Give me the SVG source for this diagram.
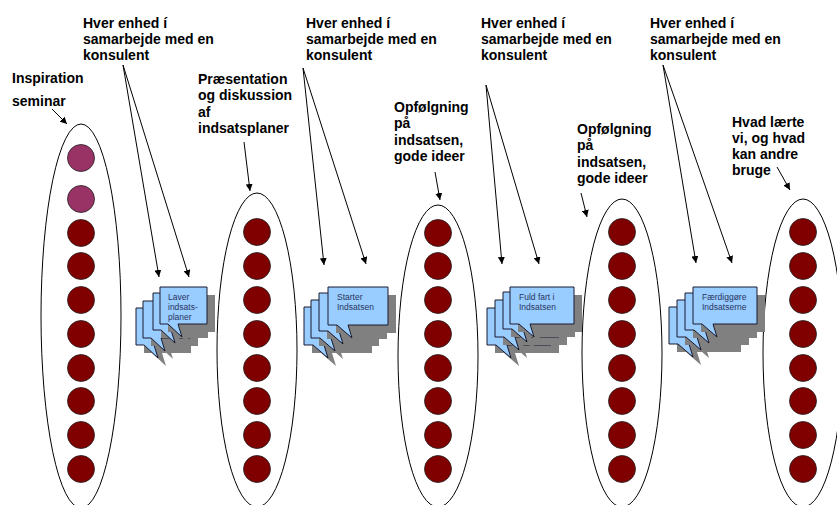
<svg xmlns="http://www.w3.org/2000/svg" width="837" height="505" viewBox="0 0 837 505">
<defs>
<style>
.lbl{font-family:"Liberation Sans",Arial,sans-serif;font-weight:bold;font-size:14px;fill:#000}
.ct{font-family:"Liberation Sans",Arial,sans-serif;font-size:8.5px;fill:#2a3560}
.ell{fill:none;stroke:#000;stroke-width:1}
.dot{fill:#800000;stroke:#222;stroke-width:0.8}
.dotp{fill:#993366;stroke:#222;stroke-width:0.8}
.con{fill:none;stroke:#000;stroke-width:1;marker-end:url(#ah)}
.bub{fill:#99ccff;stroke:#1a1a2e;stroke-width:1}
.sh{fill:#808080}
</style>
<marker id="ah" viewBox="0 0 10 10" refX="10" refY="5" markerWidth="7" markerHeight="7" markerUnits="userSpaceOnUse" orient="auto">
<path d="M0,0 L10,5 L0,10 z" fill="#000"/>
</marker>
<path id="bubA" d="M0,0 H47 V37 H18 L22,50 L8,37 H0 Z"/>
<path id="bubB" d="M0,0 H60 V38 H20 L24,51 L9,38 H0 Z"/>
<path id="bubC" d="M0,0 H64 V37 H20 L24,50 L9,37 H0 Z"/>
</defs>

<g id="seminar-ellipse">
<ellipse class="ell" cx="81" cy="316" rx="40" ry="192"/>
<circle class="dotp" cx="81" cy="158" r="13.5"/>
<circle class="dotp" cx="81" cy="199" r="13.5"/>
<circle class="dot" cx="81" cy="233" r="13.5"/>
<circle class="dot" cx="81" cy="266" r="13.5"/>
<circle class="dot" cx="81" cy="300" r="13.5"/>
<circle class="dot" cx="81" cy="334" r="13.5"/>
<circle class="dot" cx="81" cy="368" r="13.5"/>
<circle class="dot" cx="81" cy="401" r="13.5"/>
<circle class="dot" cx="81" cy="435" r="13.5"/>
<circle class="dot" cx="81" cy="469" r="13.5"/>
</g>

<g id="ellipse-2">
<ellipse class="ell" cx="257" cy="350" rx="40" ry="157"/>
<circle class="dot" cx="257" cy="232" r="13.5"/>
<circle class="dot" cx="257" cy="266" r="13.5"/>
<circle class="dot" cx="257" cy="300" r="13.5"/>
<circle class="dot" cx="257" cy="334" r="13.5"/>
<circle class="dot" cx="257" cy="368" r="13.5"/>
<circle class="dot" cx="257" cy="401" r="13.5"/>
<circle class="dot" cx="257" cy="435" r="13.5"/>
<circle class="dot" cx="257" cy="469" r="13.5"/>
</g>

<g id="ellipse-3">
<ellipse class="ell" cx="438" cy="356" rx="40" ry="151"/>
<circle class="dot" cx="438" cy="233" r="13.5"/>
<circle class="dot" cx="438" cy="266" r="13.5"/>
<circle class="dot" cx="438" cy="300" r="13.5"/>
<circle class="dot" cx="438" cy="334" r="13.5"/>
<circle class="dot" cx="438" cy="368" r="13.5"/>
<circle class="dot" cx="438" cy="401" r="13.5"/>
<circle class="dot" cx="438" cy="435" r="13.5"/>
<circle class="dot" cx="438" cy="469" r="13.5"/>
</g>

<g id="ellipse-4">
<ellipse class="ell" cx="622" cy="353" rx="40" ry="154"/>
<circle class="dot" cx="622" cy="232" r="13.5"/>
<circle class="dot" cx="622" cy="266" r="13.5"/>
<circle class="dot" cx="622" cy="300" r="13.5"/>
<circle class="dot" cx="622" cy="334" r="13.5"/>
<circle class="dot" cx="622" cy="368" r="13.5"/>
<circle class="dot" cx="622" cy="401" r="13.5"/>
<circle class="dot" cx="622" cy="435" r="13.5"/>
<circle class="dot" cx="622" cy="469" r="13.5"/>
</g>

<g id="ellipse-5">
<ellipse class="ell" cx="803" cy="353" rx="40" ry="154"/>
<circle class="dot" cx="803" cy="232" r="13.5"/>
<circle class="dot" cx="803" cy="266" r="13.5"/>
<circle class="dot" cx="803" cy="300" r="13.5"/>
<circle class="dot" cx="803" cy="334" r="13.5"/>
<circle class="dot" cx="803" cy="368" r="13.5"/>
<circle class="dot" cx="803" cy="401" r="13.5"/>
<circle class="dot" cx="803" cy="435" r="13.5"/>
<circle class="dot" cx="803" cy="469" r="13.5"/>
</g>

<g id="callout-1">
<use href="#bubA" class="sh" x="144" y="316"/><use href="#bubA" class="bub" x="136" y="308"/>
<use href="#bubA" class="sh" x="151" y="309"/><use href="#bubA" class="bub" x="143" y="301"/>
<use href="#bubA" class="sh" x="161" y="301"/><use href="#bubA" class="bub" x="153" y="293"/>
<use href="#bubA" class="sh" x="168" y="295"/><use href="#bubA" class="bub" x="160" y="287"/>
<text class="ct" x="168" y="300">Laver</text>
<text class="ct" x="168" y="310">indsats-</text>
<text class="ct" x="168" y="320">planer</text>
</g>

<g id="callout-2">
<use href="#bubB" class="sh" x="312" y="315"/><use href="#bubB" class="bub" x="304" y="307"/>
<use href="#bubB" class="sh" x="319" y="308"/><use href="#bubB" class="bub" x="311" y="300"/>
<use href="#bubB" class="sh" x="327" y="301"/><use href="#bubB" class="bub" x="319" y="293"/>
<use href="#bubB" class="sh" x="336" y="295"/><use href="#bubB" class="bub" x="328" y="287"/>
<text class="ct" x="337" y="300">Starter</text>
<text class="ct" x="337" y="310">Indsatsen</text>
</g>

<g id="callout-3">
<use href="#bubC" class="sh" x="495" y="316"/><use href="#bubC" class="bub" x="487" y="308"/>
<use href="#bubC" class="sh" x="503" y="308"/><use href="#bubC" class="bub" x="495" y="300"/>
<use href="#bubC" class="sh" x="511" y="300"/><use href="#bubC" class="bub" x="503" y="292"/>
<use href="#bubC" class="sh" x="518" y="295"/><use href="#bubC" class="bub" x="510" y="287"/>
<text class="ct" x="519" y="300">Fuld fart i</text>
<text class="ct" x="519" y="310">Indsatsen</text>
</g>

<g id="callout-4">
<use href="#bubC" class="sh" x="677" y="315"/><use href="#bubC" class="bub" x="669" y="307"/>
<use href="#bubC" class="sh" x="685" y="308"/><use href="#bubC" class="bub" x="677" y="300"/>
<use href="#bubC" class="sh" x="693" y="301"/><use href="#bubC" class="bub" x="685" y="293"/>
<use href="#bubC" class="sh" x="701" y="295"/><use href="#bubC" class="bub" x="693" y="287"/>
<text class="ct" x="702" y="300">Færdiggøre</text>
<text class="ct" x="702" y="310">Indsatserne</text>
</g>

<g id="labels">
<text class="lbl" x="83" y="28">Hver enhed í</text>
<text class="lbl" x="83" y="44">samarbejde med en</text>
<text class="lbl" x="83" y="60">konsulent</text>

<text class="lbl" x="306" y="28">Hver enhed í</text>
<text class="lbl" x="306" y="44">samarbejde med en</text>
<text class="lbl" x="306" y="60">konsulent</text>

<text class="lbl" x="481" y="28">Hver enhed í</text>
<text class="lbl" x="481" y="44">samarbejde med en</text>
<text class="lbl" x="481" y="60">konsulent</text>

<text class="lbl" x="650" y="28">Hver enhed í</text>
<text class="lbl" x="650" y="44">samarbejde med en</text>
<text class="lbl" x="650" y="60">konsulent</text>

<text class="lbl" x="12" y="83">Inspiration</text>
<text class="lbl" x="12" y="106">seminar</text>

<text class="lbl" x="198" y="84">Præsentation</text>
<text class="lbl" x="198" y="100">og diskussion</text>
<text class="lbl" x="198" y="117">af</text>
<text class="lbl" x="198" y="133">indsatsplaner</text>

<text class="lbl" x="394" y="112">Opfølgning</text>
<text class="lbl" x="394" y="128">på</text>
<text class="lbl" x="394" y="145">indsatsen,</text>
<text class="lbl" x="394" y="161">gode ideer</text>

<text class="lbl" x="577" y="134">Opfølgning</text>
<text class="lbl" x="577" y="150">på</text>
<text class="lbl" x="577" y="167">indsatsen,</text>
<text class="lbl" x="577" y="183">gode ideer</text>

<text class="lbl" x="732" y="127">Hvad lærte</text>
<text class="lbl" x="732" y="143">vi, og hvad</text>
<text class="lbl" x="732" y="159">kan andre</text>
<text class="lbl" x="732" y="175">bruge</text>
</g>

<g id="connectors">
<line class="con" x1="52" y1="109" x2="67" y2="124"/>
<line class="con" x1="123" y1="65" x2="159" y2="277"/>
<line class="con" x1="123" y1="65" x2="189" y2="277"/>
<line class="con" x1="244" y1="142" x2="250" y2="191"/>
<line class="con" x1="303" y1="68" x2="324" y2="265"/>
<line class="con" x1="303" y1="68" x2="366" y2="264"/>
<line class="con" x1="435" y1="172" x2="440" y2="200"/>
<line class="con" x1="486" y1="85" x2="502" y2="264"/>
<line class="con" x1="486" y1="85" x2="539" y2="264"/>
<line class="con" x1="581" y1="193" x2="587" y2="217"/>
<line class="con" x1="663" y1="65" x2="696" y2="263"/>
<line class="con" x1="663" y1="65" x2="732" y2="263"/>
<line class="con" x1="777" y1="167" x2="790" y2="190"/>
</g>
</svg>
